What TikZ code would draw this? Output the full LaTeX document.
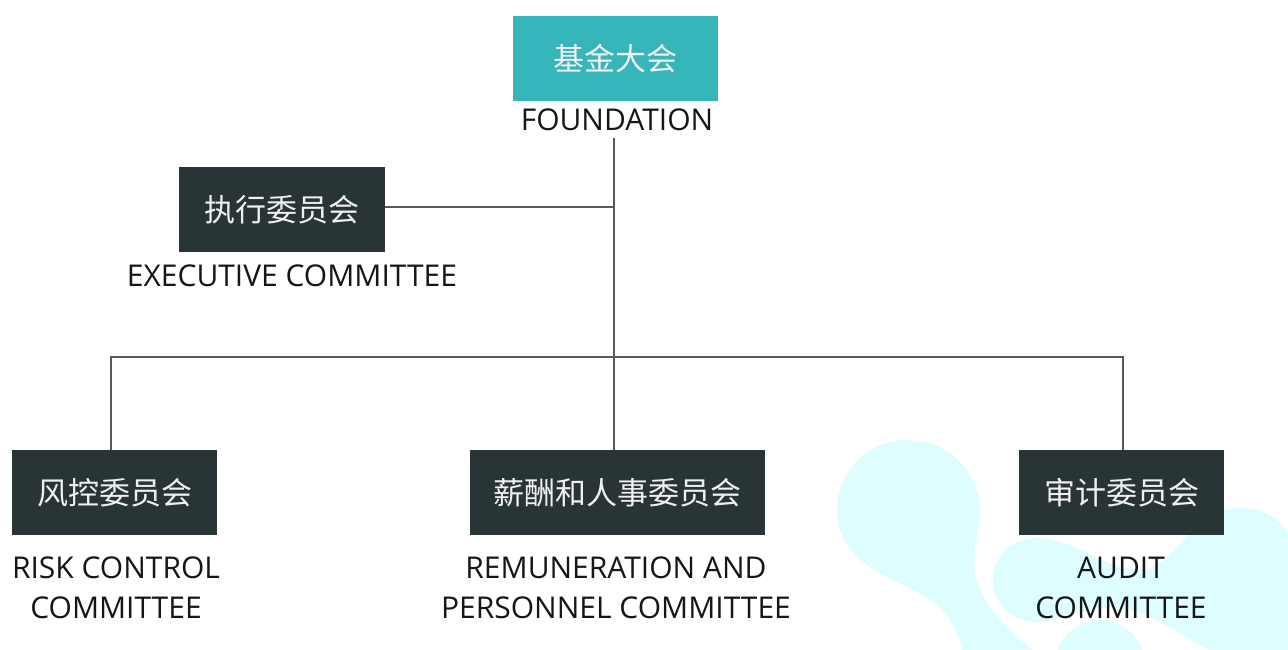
\documentclass[tikz,border=0pt]{standalone}
\usepackage{fontspec}
\setmainfont{Open Sans}
\newfontfamily\cjk{Noto Sans CJK SC}
\usetikzlibrary{calc}
\definecolor{fundteal}{RGB}{54,181,186}
\definecolor{boxdark}{RGB}{40,52,53}
\definecolor{linegray}{RGB}{85,90,90}
\definecolor{blobcyan}{RGB}{222,253,254}
\definecolor{captext}{RGB}{22,22,22}

\tikzset{
    board/.style={fill=boxdark, text=white!94!black, minimum height=85pt, inner sep=0pt,
        font=\cjk\fontsize{31}{31}\selectfont},
    caption/.style={text=captext, align=center, inner sep=0pt,
        font=\fontsize{30}{40}\selectfont},
    link/.style={draw=linegray, line width=1.3pt}
}

\begin{document}
\begin{tikzpicture}[x=1pt,y=-1pt]
    \useasboundingbox (0,0) rectangle (1288,650);

    % soft blobs in the lower right corner
    \begin{scope}
        \clip (0,0) rectangle (1288,650);
        \fill[blobcyan] (907,440) .. controls (868,440) and (837,472) .. (837,510)
            .. controls (837,548) and (865,568) .. (905,586)
            .. controls (940,602) and (960,622) .. (963,660)
            -- (1045,660)
            .. controls (1010,632) and (985,610) .. (976,578)
            .. controls (970,552) and (981,532) .. (980,505)
            .. controls (976,468) and (946,440) .. (907,440) -- cycle;
        \fill[blobcyan] (1035,580) circle[radius=42pt];
        \fill[blobcyan] (1035,538) .. controls (1075,538) and (1100,568) .. (1140,570)
            .. controls (1175,570) and (1190,510) .. (1235,508)
            .. controls (1290,506) and (1310,560) .. (1310,600)
            -- (1310,660) -- (1235,660)
            .. controls (1195,650) and (1160,612) .. (1120,608)
            .. controls (1085,605) and (1065,622) .. (1035,622) -- cycle;
        \fill[blobcyan] (1100,665) circle[radius=45pt];
    \end{scope}

    % boxes
    \node[board, fill=fundteal, minimum width=205pt] (found) at (615.5,58.5) {基金大会};
    \node[board, minimum width=206pt] (exec) at (282,209.5) {执行委员会};
    \node[board, minimum width=205pt] (risk) at (114.5,492.5) {风控委员会};
    \node[board, minimum width=295pt] (remun) at (617.5,492.5) {薪酬和人事委员会};
    \node[board, minimum width=205pt] (audit) at (1121.5,492.5) {审计委员会};

    % english names
    \node[caption] (foundname) at (617,120) {FOUNDATION};
    \node[caption] (execname) at (292,276) {EXECUTIVE COMMITTEE};
    \node[caption] (riskname) at (116,588) {RISK CONTROL\\COMMITTEE};
    \node[caption] (remunname) at (616,588) {REMUNERATION AND\\PERSONNEL COMMITTEE};
    \node[caption] (auditname) at (1121,588) {AUDIT\\COMMITTEE};

    % lines
    \coordinate (trunk) at (614,138);
    \coordinate (split) at (614,207);
    \coordinate (hub) at (614,357);
    \draw[link] (trunk) -- (remun.north -| trunk);
    \draw[link] (exec.east |- split) -- (split);
    \draw[link] ([xshift=-3.5pt]risk.north) |- (hub) -| ([xshift=1.5pt]audit.north);
\end{tikzpicture}
\end{document}
